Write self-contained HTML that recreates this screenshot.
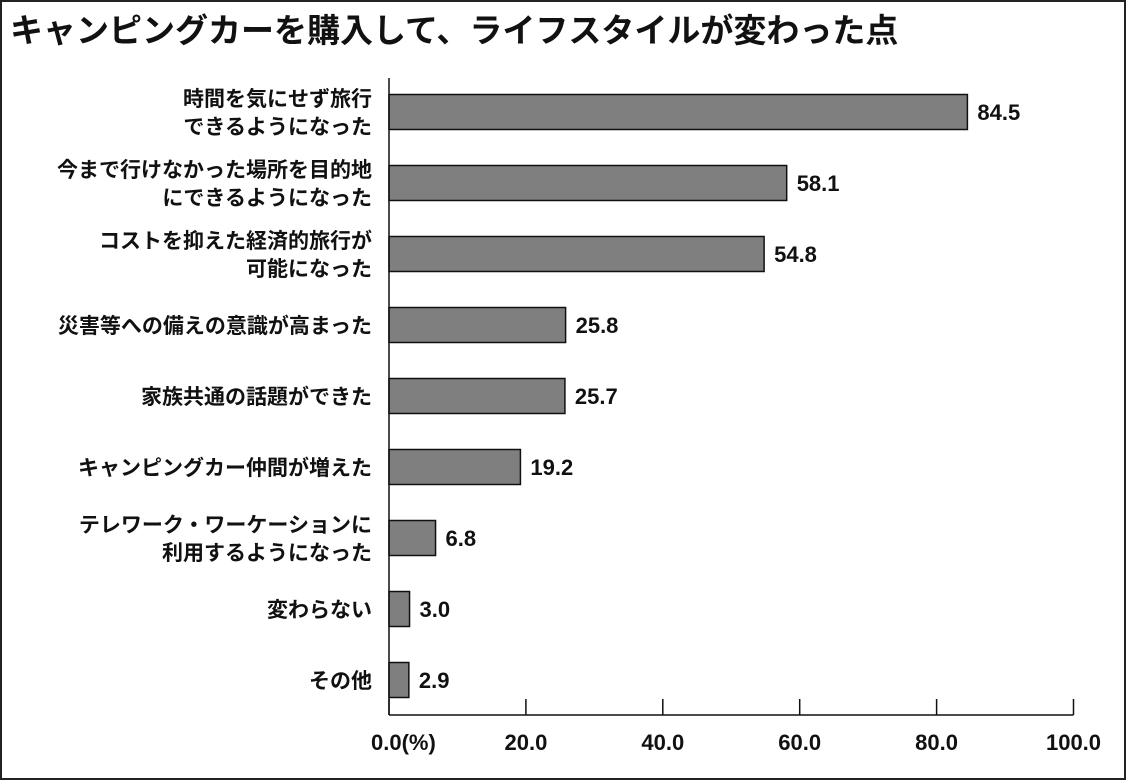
<!DOCTYPE html>
<html><head><meta charset="utf-8"><style>
body{margin:0;background:#fff;}
#wrap{position:relative;width:1126px;height:780px;overflow:hidden;}
text{font-family:"Liberation Sans","Noto Sans CJK JP",sans-serif;font-weight:bold;fill:#111;}
</style></head><body>
<div id="wrap">
<svg id="chart" width="1126" height="780">
<rect x="1" y="1" width="1124" height="778" fill="#fff" stroke="#222" stroke-width="2"/>
<text x="10" y="42" font-size="33">キャンピングカーを購入して、ライフスタイルが変わった点</text>
<g id="bars"></g>
</svg>
</div>
<script>
const categories=[["時間を気にせず旅行","できるようになった"],["今まで行けなかった場所を目的地","にできるようになった"],["コストを抑えた経済的旅行が","可能になった"],["災害等への備えの意識が高まった"],["家族共通の話題ができた"],["キャンピングカー仲間が増えた"],["テレワーク・ワーケーションに","利用するようになった"],["変わらない"],["その他"]];
const values=[84.5,58.1,54.8,25.8,25.7,19.2,6.8,3.0,2.9];
const valueLabels=["84.5","58.1","54.8","25.8","25.7","19.2","6.8","3.0","2.9"];
const ticks=[0,20,40,60,80,100];
const tickLabels=["0.0(%)","20.0","40.0","60.0","80.0","100.0"];
const NS="http://www.w3.org/2000/svg";
const g=document.getElementById('bars');
const x0=389,x1=1073.5,top0=112,step=71,bh=35,axisY=715;
const xs=v=>x0+(x1-x0)*v/100;
const ys=i=>top0+step*i;
function mk(t,a){const e=document.createElementNS(NS,t);for(const k in a)e.setAttribute(k,a[k]);g.appendChild(e);return e;}
values.forEach((v,i)=>{
  const cy=ys(i);
  const r=mk('rect',{x:xs(0),y:cy-bh/2,width:xs(v)-xs(0),height:bh,fill:'#7f7f7f',stroke:'#111','stroke-width':1.5});
  
  
  const t=mk('text',{x:xs(v)+10,y:cy+8,'font-size':22,'font-family':'"Liberation Sans Narrow","Liberation Sans",sans-serif'});
  t.textContent=valueLabels[i];
  
  
  const lines=categories[i];
  lines.forEach((ln,j)=>{
    const c=mk('text',{x:372,y:cy+8+(j-(lines.length-1)/2)*28,'font-size':21,'text-anchor':'end'});
    c.textContent=ln;
    
    
  });
});
const ax=mk('line',{x1:x0,y1:78,x2:x0,y2:axisY,stroke:'#111','stroke-width':1.5});


const bx=mk('line',{x1:x0,y1:axisY,x2:x1,y2:axisY,stroke:'#111','stroke-width':1.5});


ticks.forEach((tv,i)=>{
  const l=mk('line',{x1:xs(tv),y1:axisY-16,x2:xs(tv),y2:axisY,stroke:'#111','stroke-width':1.5});
  
  
  const t=mk('text',{x:i===0?xs(tv)-18:xs(tv),y:750,'font-size':22,'text-anchor':i===0?'start':'middle','font-family':'"Liberation Sans Narrow","Liberation Sans",sans-serif'});
  t.textContent=tickLabels[i];
  
  
});
</script>
</body></html>
